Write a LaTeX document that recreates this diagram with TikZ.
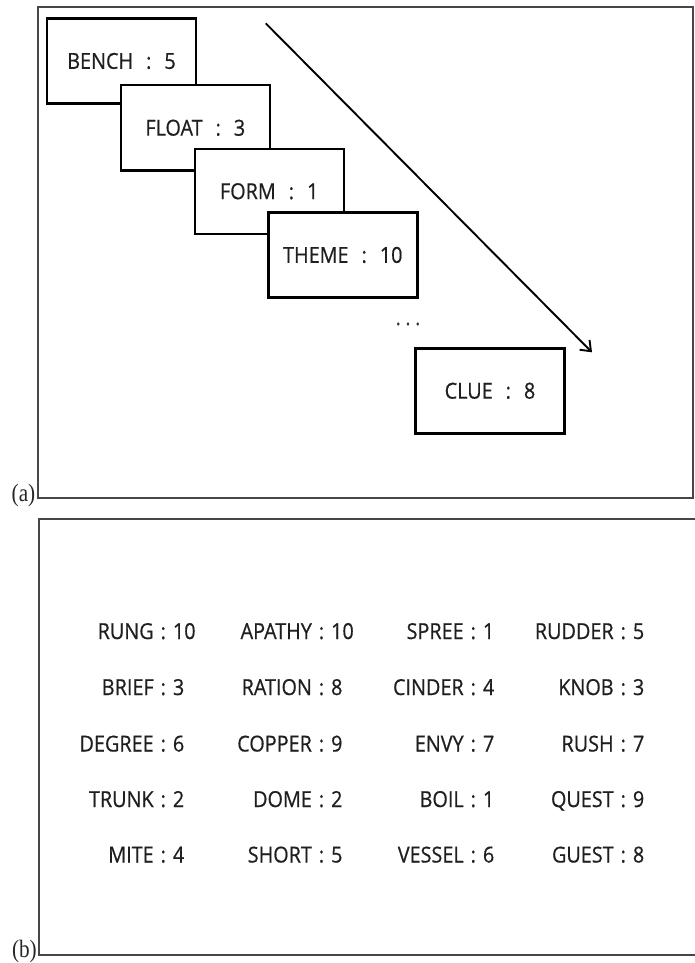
\documentclass[tikz,border=0pt]{standalone}
\usepackage{fontspec}
\setmainfont{Liberation Serif}
\newfontfamily\lblfont[FakeStretch=0.85]{Liberation Serif}
\newfontfamily\wordfont[FakeStretch=0.9,FakeBold=0.6]{Open Sans}
\usetikzlibrary{arrows.meta}
\tikzset{
  frame/.style={draw=black!72, line width=1.8pt},
  wbox/.style={draw=black, line width=2.4pt, fill=white, minimum width=149pt,
    minimum height=85pt, inner sep=0pt, text=black!88,
    font=\wordfont\fontsize{22}{26}\selectfont},
  entry/.style={inner sep=0pt, anchor=base, text=black!88,
    font=\wordfont\fontsize{22}{26}\selectfont},
  lbl/.style={inner sep=0pt, anchor=base east, text=black!85, font=\lblfont\fontsize{25}{28}\selectfont},
  flowarrow/.style={line width=1.9pt, -{Straight Barb[length=9pt,width=14pt]}}
}
\newcommand{\wsep}{\hspace{13pt}:\hspace{13pt}}
\newcommand{\ent}[2]{\makebox[0pt][r]{#1\hspace{7pt}}:\makebox[0pt][l]{\hspace{7pt}#2}}
\begin{document}
\begin{tikzpicture}[x=1pt,y=-1pt]
\useasboundingbox (0,0) rectangle (694,963);
% panel (a)
\draw[frame] (37.7,7.3) rectangle (693,498.3);
\node[lbl] (la) at (35.5,501.5) {(a)};
\coordinate (arrS) at (265.7,23.3);
\coordinate (arrE) at (592,352.3);
\draw[flowarrow] (arrS) -- (arrE);
\node[wbox] (bench) at (121.5,61) {BENCH\wsep 5};
\node[wbox] (float) at (195.3,127.8) {FLOAT\wsep 3};
\node[wbox] (form) at (269.2,191.3) {FORM\wsep 1};
\node[wbox] (theme) at (342.8,255) {THEME\wsep 10};
\node[inner sep=0pt, text=black!80, font=\wordfont\fontsize{20}{22}\selectfont] (dots) at (408,324) {.\hspace{5pt}.\hspace{5pt}.};
\node[wbox] (clue) at (490,390.8) {CLUE\wsep 8};
% panel (b)
\draw[frame] (39.3,518.7) rectangle (697,954.7);
\node[lbl] (lb) at (37,957) {(b)};
\node[entry] (e11) at (163.3,639) {\ent{RUNG}{10}};
\node[entry] (e12) at (321.5,639) {\ent{APATHY}{10}};
\node[entry] (e13) at (473.3,639) {\ent{SPREE}{1}};
\node[entry] (e14) at (623.3,639) {\ent{RUDDER}{5}};
\node[entry] (e21) at (163.3,695) {\ent{BRIEF}{3}};
\node[entry] (e22) at (321.5,695) {\ent{RATION}{8}};
\node[entry] (e23) at (473.3,695) {\ent{CINDER}{4}};
\node[entry] (e24) at (623.3,695) {\ent{KNOB}{3}};
\node[entry] (e31) at (163.3,751.5) {\ent{DEGREE}{6}};
\node[entry] (e32) at (321.5,751.5) {\ent{COPPER}{9}};
\node[entry] (e33) at (473.3,751.5) {\ent{ENVY}{7}};
\node[entry] (e34) at (623.3,751.5) {\ent{RUSH}{7}};
\node[entry] (e41) at (163.3,807) {\ent{TRUNK}{2}};
\node[entry] (e42) at (321.5,807) {\ent{DOME}{2}};
\node[entry] (e43) at (473.3,807) {\ent{BOIL}{1}};
\node[entry] (e44) at (623.3,807) {\ent{QUEST}{9}};
\node[entry] (e51) at (163.3,862.5) {\ent{MITE}{4}};
\node[entry] (e52) at (321.5,862.5) {\ent{SHORT}{5}};
\node[entry] (e53) at (473.3,862.5) {\ent{VESSEL}{6}};
\node[entry] (e54) at (623.3,862.5) {\ent{GUEST}{8}};
\end{tikzpicture}
\end{document}
